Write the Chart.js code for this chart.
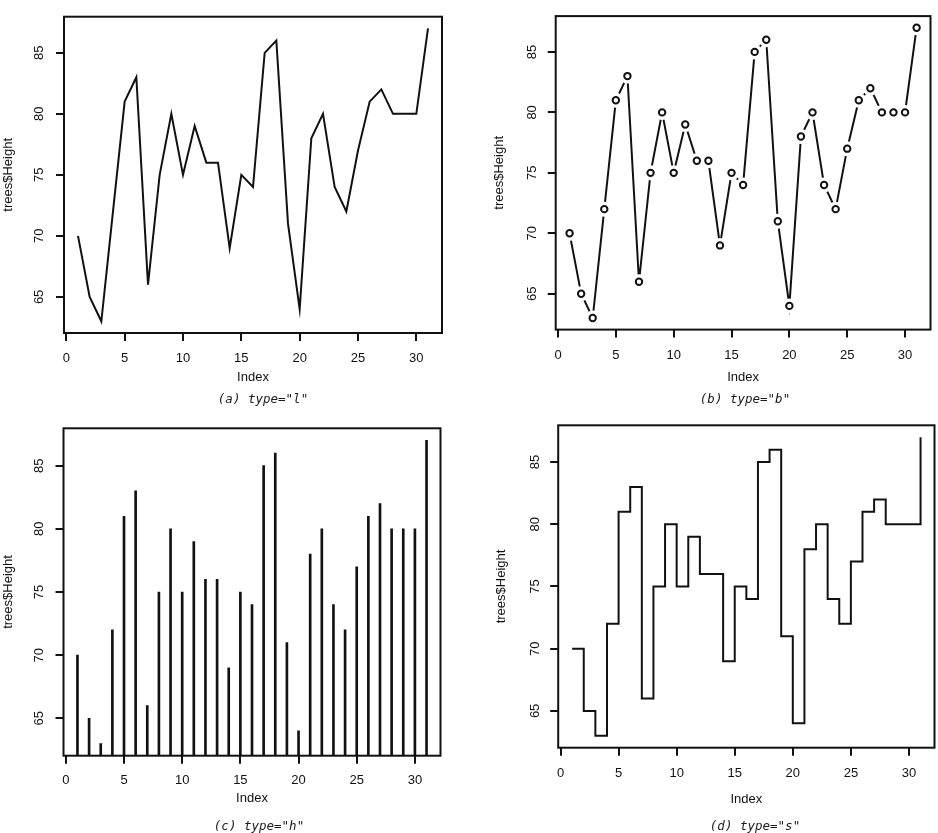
<!DOCTYPE html>
<html>
<head>
<meta charset="utf-8">
<script src="https://cdn.jsdelivr.net/npm/chart.js@4/dist/chart.umd.min.js"></script>
<style>
  body { margin: 0; background: #fff; }
  #page { position: relative; width: 938px; height: 833px; overflow: hidden; background: #fff; }
  canvas { position: absolute; }
  .cap { position: absolute; transform: translate(-50%, -50%); font: italic 12.5px 'DejaVu Sans Mono', monospace; color: #1a1a1a; white-space: pre; }
</style>
</head>
<body>
<div id="page">
  <canvas id="pa" width="469" height="410" style="left:0;top:0"></canvas>
  <canvas id="pb" width="469" height="410" style="left:469px;top:0"></canvas>
  <canvas id="pc" width="469" height="423" style="left:0;top:410px"></canvas>
  <canvas id="pd" width="469" height="423" style="left:469px;top:410px"></canvas>
  <div class="cap" style="left:263px;top:397.5px">(a) type="l"</div>
  <div class="cap" style="left:745px;top:398px">(b) type="b"</div>
  <div class="cap" style="left:259px;top:825px">(c) type="h"</div>
  <div class="cap" style="left:755px;top:825px">(d) type="s"</div>
</div>
<script>
// trees$Height against its index
const index = [1, 2, 3, 4, 5, 6, 7, 8, 9, 10, 11, 12, 13, 14, 15, 16,
               17, 18, 19, 20, 21, 22, 23, 24, 25, 26, 27, 28, 29, 30, 31];
const heights = [70, 65, 63, 72, 81, 83, 66, 75, 80, 75, 79, 76, 76, 69, 75, 74,
                 85, 86, 71, 64, 78, 80, 74, 72, 77, 81, 82, 80, 80, 80, 87];
const xTicks = [0, 5, 10, 15, 20, 25, 30];
const yTicks = [65, 70, 75, 80, 85];
const xRange = [-0.2, 32.2];
const yRange = [62.04, 87.96];

const points = index.map((x, i) => ({ x: x, y: heights[i] }));

Chart.defaults.font.family = "'Liberation Sans', Arial, sans-serif";
Chart.defaults.font.size = 13;
Chart.defaults.color = '#111';
Chart.defaults.animation = false;
Chart.defaults.events = [];
Chart.defaults.plugins.legend.display = false;
Chart.defaults.plugins.tooltip.enabled = false;

// box round the plot region, like R's box()
const frameBox = {
  id: 'frameBox',
  afterDatasetsDraw(chart) {
    const a = chart.chartArea, ctx = chart.ctx;
    ctx.save();
    ctx.strokeStyle = '#111';
    ctx.lineWidth = 2;
    ctx.strokeRect(a.left, a.top, a.right - a.left, a.bottom - a.top);
    ctx.restore();
  }
};

function tickGrid() {
  return { offset: false, drawOnChartArea: false, drawTicks: true, tickLength: 8, color: '#111', lineWidth: 2 };
}

function scalesFor(p) {
  return {
    x: {
      type: 'linear', min: xRange[0], max: xRange[1], offset: false,
      afterBuildTicks: s => { s.ticks = xTicks.map(v => ({ value: v })); },
      afterFit: s => { s.height = p.xh; },
      grid: tickGrid(),
      border: { display: false },
      ticks: { padding: p.xpad, maxRotation: 0, autoSkip: false },
      title: { display: true, text: 'Index', padding: 0 }
    },
    y: {
      type: 'linear', min: yRange[0], max: yRange[1], beginAtZero: false,
      afterBuildTicks: s => { s.ticks = yTicks.map(v => ({ value: v })); },
      afterFit: s => { s.width = p.yw; },
      grid: tickGrid(),
      border: { display: false },
      ticks: { padding: p.ypad, minRotation: 90, maxRotation: 90, crossAlign: 'center', autoSkip: false },
      title: { display: true, text: 'trees$Height', padding: { top: p.ytp, bottom: 0 } }
    }
  };
}

function optionsFor(p) {
  return {
    responsive: false,
    devicePixelRatio: 1,
    layout: { padding: { left: 0, top: p.top, right: p.right, bottom: p.bottom } },
    scales: scalesFor(p)
  };
}

// (a) type="l"
new Chart('pa', {
  type: 'line',
  data: { datasets: [{ data: points, borderColor: '#111', borderWidth: 2, pointRadius: 0, tension: 0 }] },
  options: optionsFor({ top: 5.5, right: 27, bottom: 24.6, yw: 64, xh: 52.4, xpad: 9.2, ypad: 8.9, ytp: 0.5 }),
  plugins: [frameBox]
});

// (b) type="b": open circles, line broken short of each point
new Chart('pb', {
  type: 'line',
  data: { datasets: [
    { data: points, showLine: false, pointRadius: 3.2, pointBorderWidth: 2,
      pointBorderColor: '#111', pointBackgroundColor: '#fff' },
    { data: points, showLine: false, pointRadius: 7.5, pointBorderWidth: 0,
      pointBackgroundColor: '#fff', pointBorderColor: '#fff' },
    { data: points, borderColor: '#111', borderWidth: 2, pointRadius: 0, tension: 0 }
  ] },
  options: optionsFor({ top: 2.7, right: 5, bottom: 24.6, yw: 86.7, xh: 55.8, xpad: 9.6, ypad: 8.3, ytp: 22.8 }),
  plugins: [frameBox]
});

// (c) type="h"
new Chart('pc', {
  type: 'bar',
  data: { datasets: [{ data: points, backgroundColor: '#111', barThickness: 2 }] },
  options: optionsFor({ top: 18.3, right: 28.5, bottom: 26.6, yw: 63.5, xh: 50.7, xpad: 8.5, ypad: 9.1, ytp: 0.5 }),
  plugins: [frameBox]
});

// (d) type="s"
new Chart('pd', {
  type: 'line',
  data: { datasets: [{ data: points, borderColor: '#111', borderWidth: 2, pointRadius: 0, stepped: 'before' }] },
  options: optionsFor({ top: 10.5, right: 3.5, bottom: 25.3, yw: 89.2, xh: 60, xpad: 9.8, ypad: 7.5, ytp: 24.4 }),
  plugins: [frameBox]
});
</script>
</body>
</html>
